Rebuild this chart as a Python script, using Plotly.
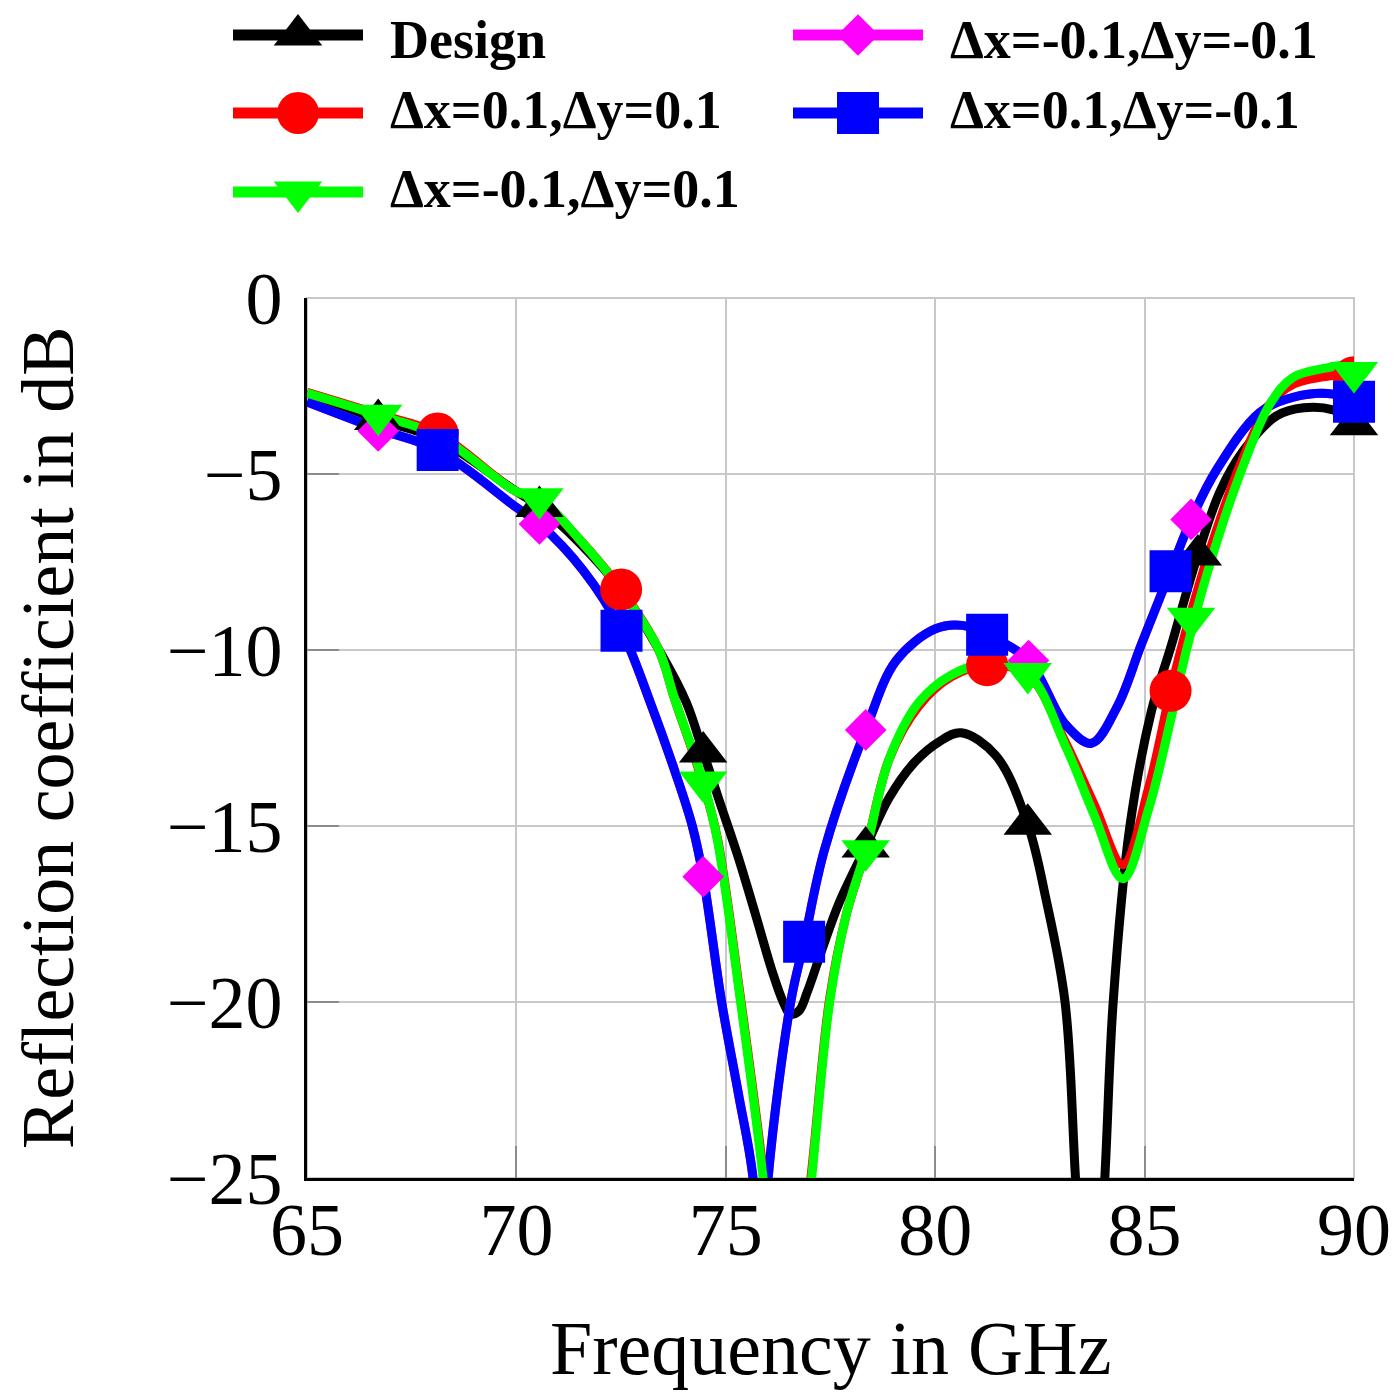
import plotly.graph_objects as go

### DATA ###
# curves: frequency in GHz, reflection coefficient in dB
# (values below -25 dB are where the curve leaves the plot box)
f_design = [65.0, 66.7, 68.1, 70.0, 70.55, 71.5, 72.5, 73.5, 74.06, 74.46, 74.85, 75.3, 75.73, 76.1, 76.37, 76.55,
            76.75, 76.95, 77.3, 77.7, 78.34, 78.9, 79.5, 80.1, 80.62, 81.45, 82.21, 82.65, 83.1, 83.35, 83.7, 84.05,
            84.25, 84.65, 85.16, 85.63, 86.27, 86.8, 87.35, 88.15, 88.8, 89.5, 90.0]
s_design = [-2.7, -3.45, -4.0, -5.5, -5.92, -6.95, -8.3, -10.2, -11.5, -12.9, -14.3, -15.9, -17.6, -19.1, -20.0, -20.35,
            -20.25, -19.7, -18.5, -17.2, -15.6, -14.2, -13.2, -12.6, -12.35, -13.0, -14.95, -17.1, -20.0, -25.0, -32.0, -25.0,
            -20.0, -15.0, -11.75, -9.9, -7.3, -5.5, -4.35, -3.35, -3.12, -3.18, -3.5]

f_blue = [65.0, 66.7, 68.12, 70.0, 70.55, 71.6, 72.51, 73.2, 73.8, 74.2, 74.46, 74.9, 75.3, 75.65, 75.83,
          76.01, 76.55, 76.87, 77.35, 78.34, 79.07, 80.0, 80.65, 81.24, 82.23, 83.1, 83.73, 84.35, 84.92, 85.62,
          86.11, 86.71, 87.75, 88.55, 89.5, 90.0]
s_blue = [-2.95, -3.72, -4.32, -5.95, -6.42, -7.75, -9.45, -11.5, -13.5, -15.0, -16.44, -20.0, -22.6, -25.0, -29.0,
          -25.0, -20.0, -18.29, -15.7, -12.27, -10.3, -9.4, -9.3, -9.57, -10.3, -12.1, -12.65, -11.6, -9.85, -7.75,
          -6.3, -4.9, -3.25, -2.82, -2.73, -2.95]

# dx=-0.1,dy=-0.1 lies under the blue curve
f_magenta = f_blue
s_magenta = s_blue

f_green = [65.0, 66.7, 68.12, 70.0, 70.55, 71.5, 72.5, 73.4, 73.78, 74.46, 74.8, 75.33, 75.89, 76.45, 77.05, 77.48,
           77.88, 78.34, 78.9, 79.6, 80.4, 81.24, 82.21, 83.1, 83.8, 84.48, 85.1, 85.62, 86.0, 86.55, 87.28, 88.0,
           88.55, 89.5, 90.0]
s_green = [-2.7, -3.33, -3.9, -5.5, -5.7, -6.85, -8.3, -10.0, -11.4, -13.75, -15.4, -19.8, -25.0, -32.0, -25.0, -20.0,
           -17.5, -15.7, -13.1, -11.5, -10.7, -10.4, -10.67, -12.7, -14.7, -16.5, -14.5, -12.0, -10.0, -7.6, -5.0, -3.0,
           -2.25, -1.95, -1.85]

f_red = f_green
s_red = [-2.68, -3.3, -3.85, -5.5, -5.72, -6.85, -8.28, -10.0, -11.4, -13.8, -15.35, -19.7, -24.8, -31.0, -24.8, -19.9,
         -17.5, -15.7, -13.1, -11.6, -10.75, -10.43, -10.7, -12.6, -14.4, -16.1, -13.9, -11.16, -9.4, -7.2, -4.75, -3.0,
         -2.45, -2.2, -2.15]

# marker positions (every few samples, as in the original)
mf_design = [66.7, 70.55, 74.46, 78.34, 82.21, 86.27, 90.0]
ms_design = [-3.45, -5.92, -12.9, -15.6, -14.95, -7.3, -3.6]
mf_magenta = [66.7, 70.55, 74.46, 78.34, 82.23, 86.11, 90.0]
ms_magenta = [-3.78, -6.42, -16.44, -12.27, -10.3, -6.29, -2.95]
mf_red = [68.12, 72.5, 76.9, 81.24, 85.62, 90.0]
ms_red = [-3.85, -8.28, -26.5, -10.43, -11.16, -2.25]
mf_blue = [68.12, 72.51, 76.87, 81.24, 85.62, 90.0]
ms_blue = [-4.32, -9.45, -18.29, -9.57, -7.76, -2.95]
mf_green = [66.7, 70.55, 74.46, 78.34, 82.21, 86.11, 90.0]
ms_green = [-3.33, -5.7, -13.75, -15.7, -10.67, -9.1, -2.12]

x_ticks = [65, 70, 75, 80, 85, 90]
y_ticks = [0, -5, -10, -15, -20, -25]

### INIT ###
W = H = 1400
# positions in px of the figure (the page shows it 8px in from the corner)
PX_L, PX_R, PX_T, PX_B = 299, 1346, 290, 1170  # plot box
LEG_H = 240  # legend strip at the top
FONT = "Liberation Serif"
LW = 9

# plot order = legend row order (2 columns); slot = (line start x, row y, text y)
series = [
    dict(name="Design", f=f_design, s=s_design, mf=mf_design, ms=ms_design, color="#000000", symbol="triangle-up", size=42, slot=(225, 27, 32)),
    dict(name="\u0394x=-0.1,\u0394y=-0.1", f=f_magenta, s=s_magenta, mf=mf_magenta, ms=ms_magenta, color="#ff00ff", symbol="diamond", size=32, slot=(785, 27, 32)),
    dict(name="\u0394x=0.1,\u0394y=0.1", f=f_red, s=s_red, mf=mf_red, ms=ms_red, color="#ff0000", symbol="circle", size=42, slot=(225, 105, 102)),
    dict(name="\u0394x=0.1,\u0394y=-0.1", f=f_blue, s=s_blue, mf=mf_blue, ms=ms_blue, color="#0000ff", symbol="square", size=42, slot=(785, 105, 102)),
    dict(name="\u0394x=-0.1,\u0394y=0.1", f=f_green, s=s_green, mf=mf_green, ms=ms_green, color="#00ff00", symbol="triangle-down", size=42, slot=(225, 184, 181)),
]

fig = go.Figure()

# light frame on top and right (the grid lines at 0 dB and 90 GHz)
fig.add_shape(type="rect", xref="x domain", yref="y domain", x0=0, x1=1, y0=0, y1=1,
              line=dict(color="#c8c8c8", width=2), layer="below")

# all curves first, marks on top of them
for sr in series:
    fig.add_trace(go.Scatter(x=sr["f"], y=sr["s"], mode="lines", line=dict(color=sr["color"], width=LW, shape="spline", smoothing=1.0),
                             showlegend=False, hoverinfo="skip"))
for sr in series:
    # the red mark at 76.9 GHz lies below the box, so keep that one clipped
    fig.add_trace(go.Scatter(x=sr["mf"], y=sr["ms"], mode="markers", cliponaxis=(sr["color"] == "#ff0000"),
                             marker=dict(symbol=sr["symbol"], size=sr["size"], color=sr["color"], line=dict(width=0)),
                             showlegend=False))

# hand made legend (overlay axis in px, so marks can be as big as in the plot)
for sr in series:
    x0, y0, ty = sr["slot"]
    fig.add_trace(go.Scatter(x=[x0, x0 + 130], y=[y0, y0], mode="lines", line=dict(color=sr["color"], width=11),
                             xaxis="x2", yaxis="y2", showlegend=False, hoverinfo="skip"))
    fig.add_trace(go.Scatter(x=[x0 + 65], y=[y0], mode="markers", xaxis="x2", yaxis="y2", cliponaxis=False,
                             marker=dict(symbol=sr["symbol"], size=sr["size"], color=sr["color"], line=dict(width=0)),
                             showlegend=False, hoverinfo="skip"))
    fig.add_annotation(text="<b>" + sr["name"] + "</b>", x=(x0 + 155) / W, y=1 - ty / H, xref="paper", yref="paper",
                       xanchor="left", yanchor="middle", showarrow=False, font=dict(family=FONT, size=54, color="black"))

# axis titles
fig.add_annotation(text="Frequency in GHz", x=(PX_L + PX_R) / 2 / W, y=1 - 1340 / H, xref="paper", yref="paper",
                   xanchor="center", yanchor="middle", showarrow=False, font=dict(family=FONT, size=76, color="black"))
fig.add_annotation(text="Reflection coefficient in dB", x=40 / W, y=1 - (PX_T + PX_B) / 2 / H, xref="paper", yref="paper",
                   xanchor="center", yanchor="middle", textangle=-90, showarrow=False,
                   font=dict(family=FONT, size=74, color="black"))

axis_common = dict(showgrid=True, gridcolor="#c8c8c8", gridwidth=2, zeroline=False, showline=True, linecolor="black",
                   linewidth=2.5, ticks="inside", ticklen=32, tickwidth=2, tickcolor="#8c8c8c", automargin=False,
                   tickfont=dict(family=FONT, size=74, color="black"), fixedrange=True)

fig.update_layout(
    template="none",
    width=W, height=H, margin=dict(l=0, r=0, t=0, b=0, pad=0, autoexpand=False),
    paper_bgcolor="white", plot_bgcolor="rgba(0,0,0,0)",
    xaxis=dict(domain=[PX_L / W, PX_R / W], range=[65, 90], tickvals=x_ticks, ticklabelstandoff=-15, **axis_common),
    yaxis=dict(domain=[1 - PX_B / H, 1 - PX_T / H], range=[-25, 0], tickvals=y_ticks, ticklabelstandoff=7, **axis_common),
    xaxis2=dict(domain=[0, 1], range=[0, W], visible=False, anchor="y2", fixedrange=True, automargin=False),
    yaxis2=dict(domain=[1 - LEG_H / H, 1], range=[LEG_H, 0], visible=False, anchor="x2", fixedrange=True, automargin=False),
    showlegend=False,
)

fig.write_html("out.html")
